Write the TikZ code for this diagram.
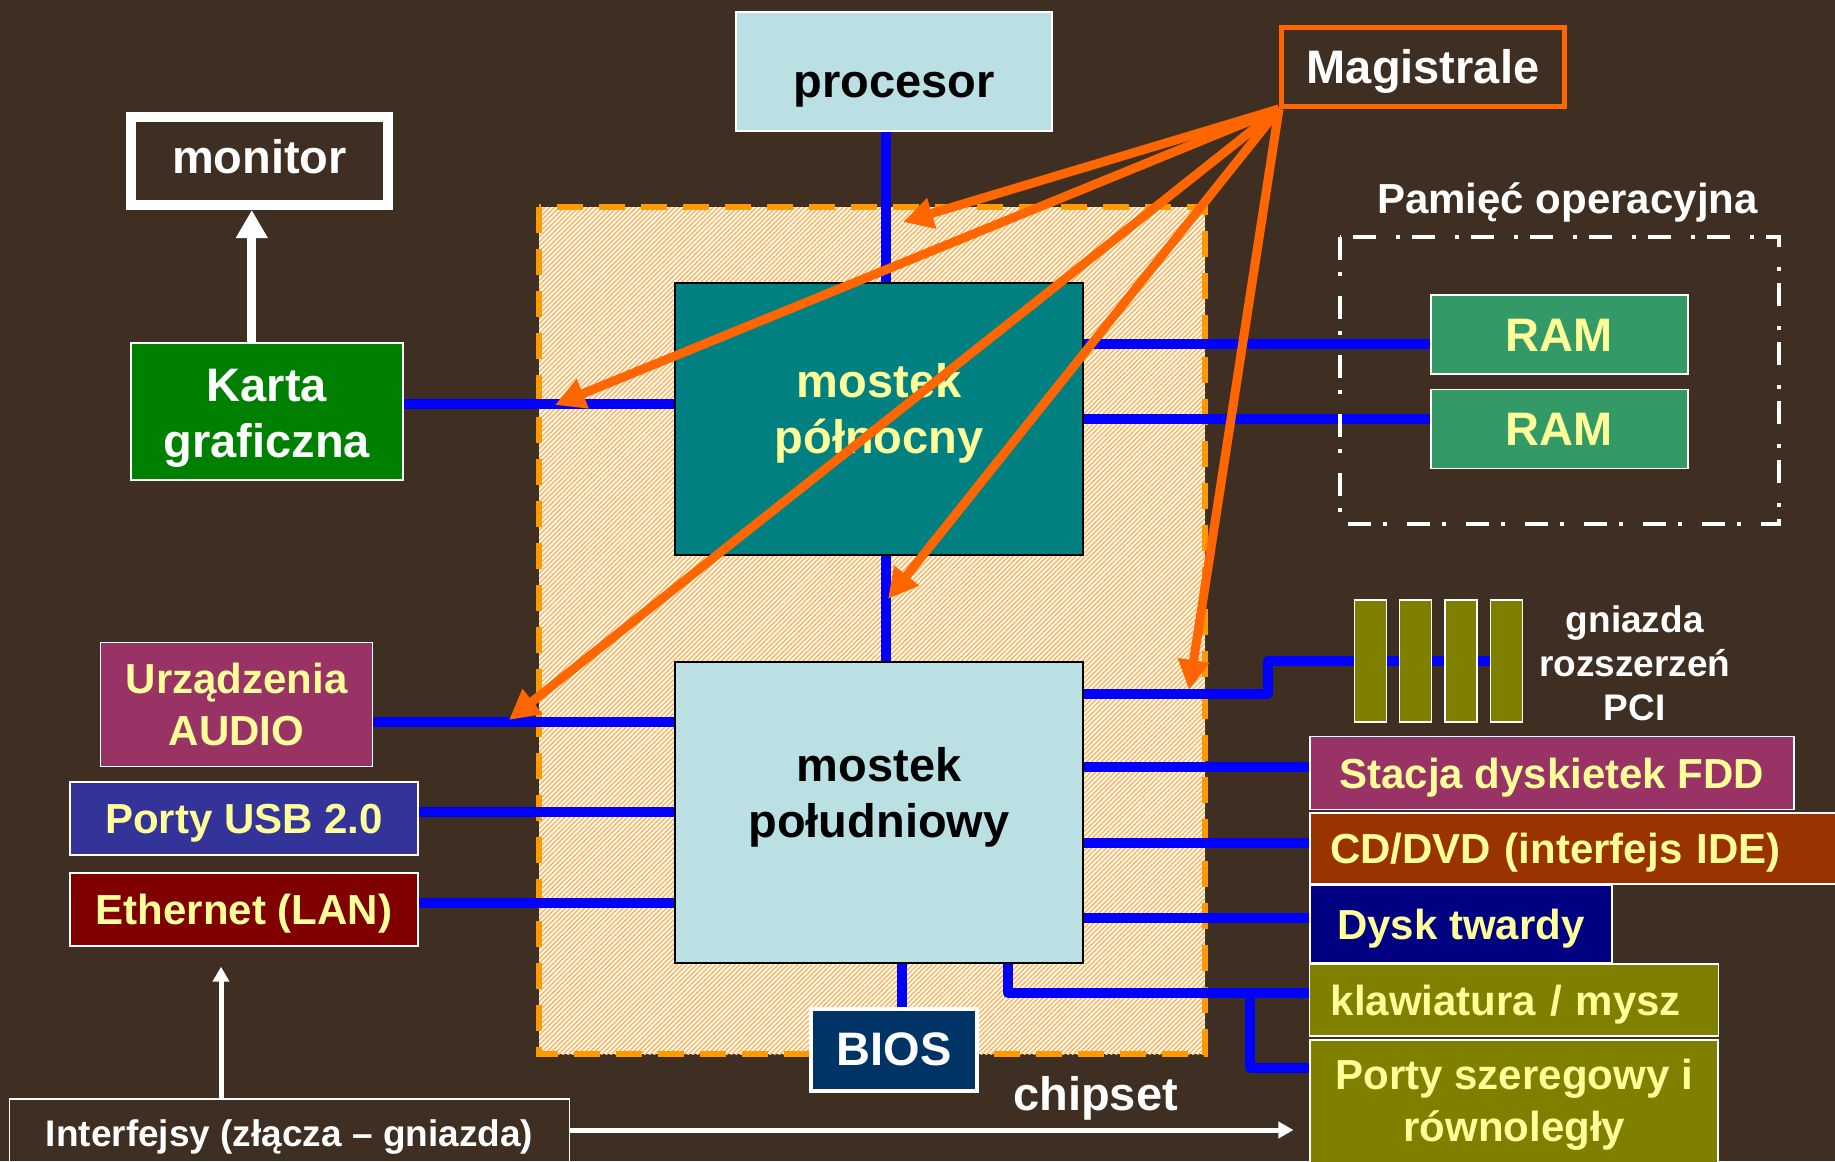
\documentclass[tikz,border=0pt]{standalone}
\usepackage{fontspec}
\setmainfont{Liberation Sans}
\usetikzlibrary{arrows.meta, positioning, patterns.meta, backgrounds}
\definecolor{wood}{RGB}{63,47,34}
\definecolor{busblue}{RGB}{0,0,255}
\definecolor{arroworange}{RGB}{255,102,0}
\definecolor{hatchorange}{RGB}{255,178,85}
\definecolor{chipsetorange}{RGB}{255,153,0}
\definecolor{labelyellow}{RGB}{255,255,153}
\definecolor{cpublue}{RGB}{187,224,227}
\definecolor{nbteal}{RGB}{0,128,128}
\definecolor{cardgreen}{RGB}{0,128,0}
\definecolor{ramgreen}{RGB}{51,153,102}
\definecolor{plum}{RGB}{153,51,102}
\definecolor{usbblue}{RGB}{51,51,153}
\definecolor{lanred}{RGB}{128,0,0}
\definecolor{idebrown}{RGB}{153,51,0}
\definecolor{hddnavy}{RGB}{0,0,128}
\definecolor{slotolive}{RGB}{128,128,0}
\definecolor{biosnavy}{RGB}{0,51,102}
\newcommand{\lblbig}{\fontsize{47}{56}\selectfont\bfseries}
\newcommand{\lblmid}{\fontsize{42}{52}\selectfont\bfseries}
\newcommand{\lblsmall}{\fontsize{37}{44}\selectfont\bfseries}

\begin{document}
\begin{tikzpicture}[x=1pt, y=-1pt,
    box/.style={draw=white, line width=1.5pt, inner sep=0pt, text=labelyellow, font=\lblmid},
    single/.style={text height=39pt, text depth=9pt},
    bus/.style={draw=busblue, line width=10pt, line join=round},
    magarrow/.style={draw=arroworange, line width=9pt, -{Triangle[length=30pt, width=30pt]}},
    whitearrow/.style={draw=white, line width=5pt, -{Triangle[length=15pt, width=16pt]}}]

\useasboundingbox (0,0) rectangle (1835,1161);

% === wood + chipset area ===
\begin{scope}[on background layer]
\fill[wood] (0,0) rectangle (1835,1161);
\fill[white] (539,207) rectangle (1205,1054);
\fill[pattern={Lines[angle=45, distance=3.4pt, line width=1.4pt]}, pattern color=hatchorange] (539,207) rectangle (1205,1054);
\draw[chipsetorange, line width=6pt, dash pattern=on 26pt off 16pt] (539,207) rectangle (1205,1054);
\end{scope}

% === top ===
\node[box, single, fill=cpublue, text=black, font=\lblbig, minimum width=316pt, minimum height=119pt, text height=62pt] (cpu) at (894,71.5) {procesor};
\node[single, draw=arroworange, line width=5pt, inner sep=0pt, text=white, font=\lblbig, minimum width=283pt, minimum height=79pt, text height=42pt] (magistrale) at (1423,67) {Magistrale};
\node[single, draw=white, line width=10pt, inner sep=0pt, text=white, font=\lblbig, minimum width=257pt, minimum height=88pt, text height=35pt] (monitor) at (259.5,161) {monitor};

% === chipset ===
\node[box, fill=cardgreen, text=white, font=\lblbig, align=center, minimum width=272pt, minimum height=137pt] (karta) at (266.8,411.5) {\rule{0pt}{45pt}Karta\\graficzna};
\node[box, draw=black, fill=nbteal, font=\lblbig, align=center, minimum width=408pt, minimum height=272pt] (nb) at (879,419) {mostek\\północny\rule[-22pt]{0pt}{0pt}};
\node[box, draw=black, fill=cpublue, text=black, font=\lblbig, align=center, minimum width=408pt, minimum height=301pt] (sb) at (879,812.5) {mostek\\południowy\rule[-40pt]{0pt}{0pt}};
\node[box, single, fill=biosnavy, text=white, font=\lblbig, line width=4pt, minimum width=166pt, minimum height=82pt] (bios) at (894.2,1050) {BIOS};
\node[text=white, font=\lblbig, anchor=base] (chipsetlabel) at (1095.5,1110) {chipset};

% === memory ===
\node[text=white, font=\lblmid, anchor=base] (pamlabel) at (1567.5,213) {Pamięć operacyjna};
\draw[white, line width=4pt, dash pattern=on 23pt off 12pt on 4pt off 20pt] (1340,237) rectangle (1779,524);
\node[box, single, fill=ramgreen, font=\lblbig, minimum width=257pt, minimum height=79pt, text height=43pt] (ram1) at (1559.4,334.5) {RAM};
\node[box, single, fill=ramgreen, font=\lblbig, minimum width=257pt, minimum height=79pt, text height=43pt] (ram2) at (1559.4,428.8) {RAM};

% === left devices ===
\node[box, align=center, fill=plum, minimum width=272pt, minimum height=124pt] (audio) at (236.6,704.7) {Urządzenia\\AUDIO};
\node[box, single, fill=usbblue, minimum width=348pt, minimum height=73pt] (usb) at (244,818.5) {Porty USB 2.0};
\node[box, single, fill=lanred, minimum width=348pt, minimum height=73pt] (lan) at (244,909.4) {Ethernet (LAN)};
\node[box, single, text=white, font=\lblsmall, minimum width=560pt, minimum height=68pt, text height=35pt] (interf) at (289.5,1133) {Interfejsy (złącza – gniazda)};

% === right devices ===
\foreach \i in {1,...,4}
  \node[box, fill=slotolive, minimum width=32pt, minimum height=122pt] (slot\i) at ({1324.9+45.4*\i},661) {};
\node[text=white, font=\lblsmall, align=center, inner sep=0pt] (pcilabel) at (1634.7,663.5) {gniazda\\rozszerzeń\\PCI};
\node[box, single, fill=plum, minimum width=484pt, minimum height=73pt] (fdd) at (1551.8,773) {Stacja dyskietek FDD};
\node[box, single, fill=idebrown, minimum height=71pt, text width=510pt, align=left, inner xsep=20pt] (ide) at (1585,848.4) {CD/DVD (interfejs IDE)};
\node[box, single, fill=hddnavy, minimum width=302pt, minimum height=77pt] (hdd) at (1461,924) {Dysk twardy};
\node[box, single, fill=slotolive, minimum height=72pt, text width=367pt, align=left, inner xsep=21pt] (kbd) at (1514.2,1000) {klawiatura / mysz};
\node[box, align=center, fill=slotolive, minimum width=408pt, minimum height=130pt] (ports) at (1514.2,1105) {Porty szeregowy i\\równoległy};

% === buses ===
\coordinate (busx) at (886,0);
\coordinate (biosx) at (902,0);
\coordinate (pcijog) at (1268,0);
\coordinate (kbdx) at (1008,0);
\coordinate (portsx) at (1250,0);
\begin{scope}[on background layer]
\draw[bus] (cpu.south -| busx) -- (nb.north -| busx);
\draw[bus] (nb.south -| busx) -- (sb.north -| busx);
\draw[bus] ([yshift=7.5pt]karta.east) -- ([yshift=7.5pt]karta.east -| nb.west);
\draw[bus] ([yshift=-9pt]ram1.west) -- ([yshift=-9pt]ram1.west -| nb.east);
\draw[bus] ([yshift=10pt]ram2.west) -- ([yshift=10pt]ram2.west -| nb.east);
\foreach \n/\s in {audio/-17, usb/6.5, lan/6.7}
  \draw[bus] ([yshift=\s pt]\n.east) -- ([yshift=\s pt]\n.east -| sb.west);
\draw[bus] ([yshift=119pt]sb.east) -| (pcijog |- slot1.center) -- (slot4.center);
\foreach \n/\s in {fdd/6, ide/5.7, hdd/6.3}
  \draw[bus] ([yshift=\s pt]\n.west) -- ([yshift=\s pt]\n.west -| sb.east);
\draw[bus] (bios.north -| biosx) -- (sb.south -| biosx);
\draw[bus] (sb.south -| kbdx) |- ([yshift=7pt]kbd.west);
\draw[bus] ([yshift=7pt]kbd.west -| portsx) |- ([yshift=37pt]ports.west);
\end{scope}

% === arrows ===
\coordinate (ifx) at (221,0);
\draw[white, line width=9pt, -{Triangle[length=28pt, width=30pt]}] ([xshift=-15pt]karta.north) -- ([xshift=-15pt]karta.north |- monitor.south);
\draw[whitearrow, shorten >=20pt] (interf.north -| ifx) -- (lan.south -| ifx);
\draw[whitearrow, shorten >=16pt] ([yshift=3pt]interf.east) -- ([yshift=3pt]interf.east -| ports.west);

\coordinate (tcpu) at (903,222);
\coordinate (tkarta) at (555,405);
\coordinate (taudio) at (509,720);
\coordinate (tnbsb) at (888,599);
\coordinate (tpci) at (1189,690);
\foreach \t in {tcpu, tkarta, taudio, tnbsb, tpci}
  \draw[magarrow] (magistrale.south west) -- (\t);

\end{tikzpicture}
\end{document}
